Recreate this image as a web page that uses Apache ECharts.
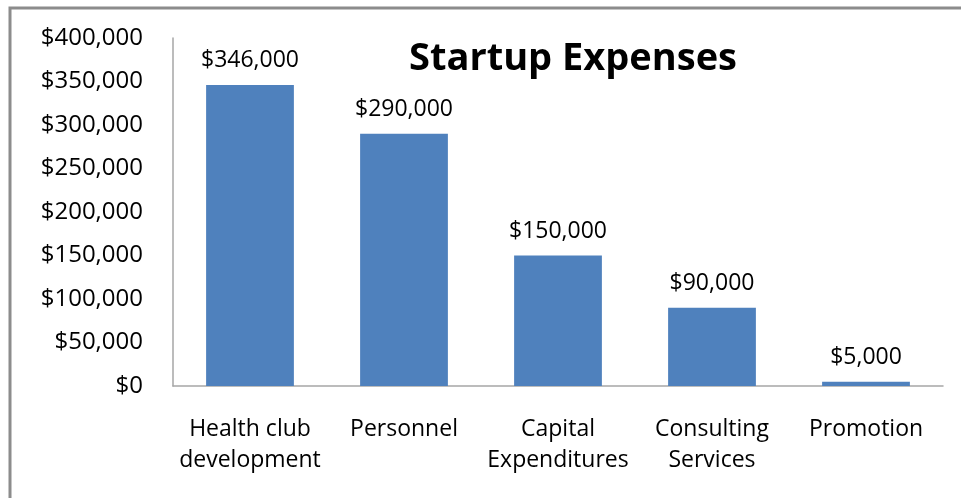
<!DOCTYPE html>
<html>
<head>
<meta charset="utf-8">
<script src="https://cdn.jsdelivr.net/npm/echarts@6/dist/echarts.min.js"></script>
<style>
  html, body { margin: 0; padding: 0; background: #fff; }
  #chart { width: 961px; height: 498px; }
</style>
</head>
<body>
<div id="chart"></div>
<script>
const categories = ['Health club\ndevelopment', 'Personnel', 'Capital\nExpenditures', 'Consulting\nServices', 'Promotion'];
const expenses = [346000, 290000, 150000, 90000, 5000];
const yTicks = [0, 50000, 100000, 150000, 200000, 250000, 300000, 350000, 400000];

const font = '"Open Sans", "Noto Sans", sans-serif';
const money = v => '$' + Number(v).toLocaleString('en-US');

const chart = echarts.init(document.getElementById('chart'));

chart.setOption({
    animation: false,
    title: {
        text: 'Startup Expenses',
        left: 568,
        top: 35,
        textAlign: 'center',
        textStyle: { fontFamily: font, fontSize: 38, fontWeight: 'bold', color: '#000' }
    },
    graphic: [{
        type: 'rect',
        shape: { x: 10, y: 8, width: 1000, height: 600 },
        style: { fill: 'none', stroke: '#8c8c8c', lineWidth: 3 },
        silent: true
    }],
    grid: { left: 173, right: 18, top: 38, bottom: 112 },
    xAxis: {
        type: 'category',
        data: categories,
        axisLine: { lineStyle: { color: '#a6a6a6', width: 1.5 } },
        axisTick: { show: false },
        axisLabel: {
            interval: 0,
            margin: 28,
            fontFamily: font,
            fontSize: 23,
            lineHeight: 31,
            color: '#000'
        }
    },
    yAxis: {
        type: 'value',
        min: yTicks[0],
        max: yTicks[yTicks.length - 1],
        interval: yTicks[1] - yTicks[0],
        splitLine: { show: false },
        axisLine: { show: true, lineStyle: { color: '#a6a6a6', width: 1.5 } },
        axisTick: { show: false },
        axisLabel: {
            margin: 30,
            fontFamily: font,
            fontSize: 24,
            color: '#000',
            formatter: money
        }
    },
    series: [{
        type: 'bar',
        data: expenses,
        barCategoryGap: '43%',
        itemStyle: { color: '#4f81bd' },
        label: {
            show: true,
            position: 'top',
            distance: 13,
            fontFamily: font,
            fontSize: 23,
            color: '#000',
            formatter: p => money(p.value)
        }
    }]
});
</script>
</body>
</html>
